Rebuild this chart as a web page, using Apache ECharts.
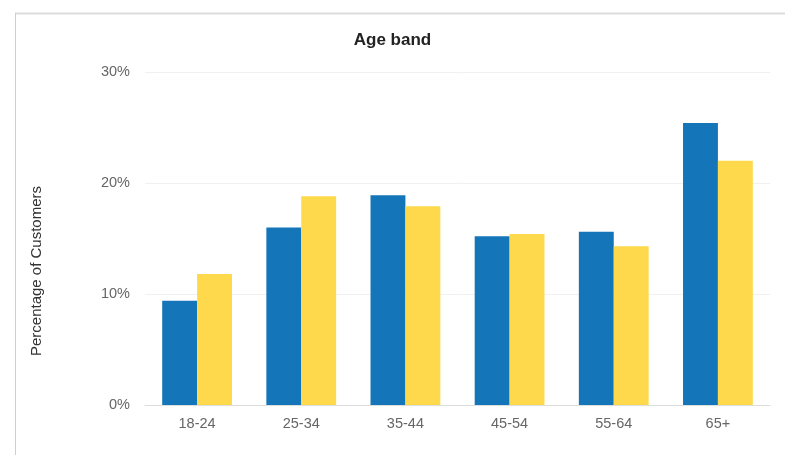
<!DOCTYPE html>
<html>
<head>
<meta charset="utf-8">
<script src="https://cdn.jsdelivr.net/npm/echarts@6/dist/echarts.min.js"></script>
<style>
  html, body { margin: 0; padding: 0; background: #fff; }
  #chart { width: 785px; height: 455px; }
</style>
</head>
<body>
<div id="chart"></div>
<script>
// Age bands on the category axis
var ageBands = ['18-24', '25-34', '35-44', '45-54', '55-64', '65+'];
// Share of customers in each band (%), two groups
var seriesBlue = [9.4, 16.0, 18.9, 15.2, 15.6, 25.4];
var seriesYellow = [11.8, 18.8, 17.9, 15.4, 14.3, 22.0];
// Value axis ticks
var yTicks = [0, 10, 20, 30];

var chart = echarts.init(document.getElementById('chart'), null, { renderer: 'canvas' });

chart.setOption({
  animation: false,
  backgroundColor: '#ffffff',
  textStyle: { fontFamily: 'Liberation Sans, Arial, sans-serif' },
  title: {
    text: 'Age band',
    left: 'center',
    top: 27,
    textStyle: { fontSize: 17, fontWeight: 'bold', color: '#222' }
  },
  graphic: [
    { type: 'line', shape: { x1: 15, y1: 13.5, x2: 785, y2: 13.5 }, style: { stroke: '#dcdcdc', lineWidth: 2 } },
    { type: 'line', shape: { x1: 15.5, y1: 13, x2: 15.5, y2: 455 }, style: { stroke: '#cfcfcf', lineWidth: 1 } },
    {
      type: 'text',
      x: 37, y: 271,
      rotation: Math.PI / 2,
      style: {
        text: 'Percentage of Customers',
        fill: '#333',
        font: '15px Liberation Sans, Arial, sans-serif',
        align: 'center',
        verticalAlign: 'middle'
      }
    }
  ],
  grid: { left: 145, right: 15, top: 72, bottom: 50 },
  xAxis: {
    type: 'category',
    data: ageBands,
    axisLine: { lineStyle: { color: '#dddddd', width: 1 } },
    axisTick: { show: false },
    axisLabel: { color: '#666', fontSize: 14.5, margin: 11 }
  },
  yAxis: {
    type: 'value',
    min: yTicks[0],
    max: yTicks[yTicks.length - 1],
    interval: 10,
    axisLine: { show: false },
    axisTick: { show: false },
    splitLine: { lineStyle: { color: '#f0f0f0', width: 1 } },
    axisLabel: { color: '#666', fontSize: 14.5, margin: 15, formatter: '{value}%' }
  },
  series: [
    {
      type: 'bar',
      data: seriesBlue,
      barGap: '0%',
      barCategoryGap: '33%',
      itemStyle: { color: '#1476b8' }
    },
    {
      type: 'bar',
      data: seriesYellow,
      itemStyle: { color: '#fed94b' }
    }
  ]
});
</script>
</body>
</html>
